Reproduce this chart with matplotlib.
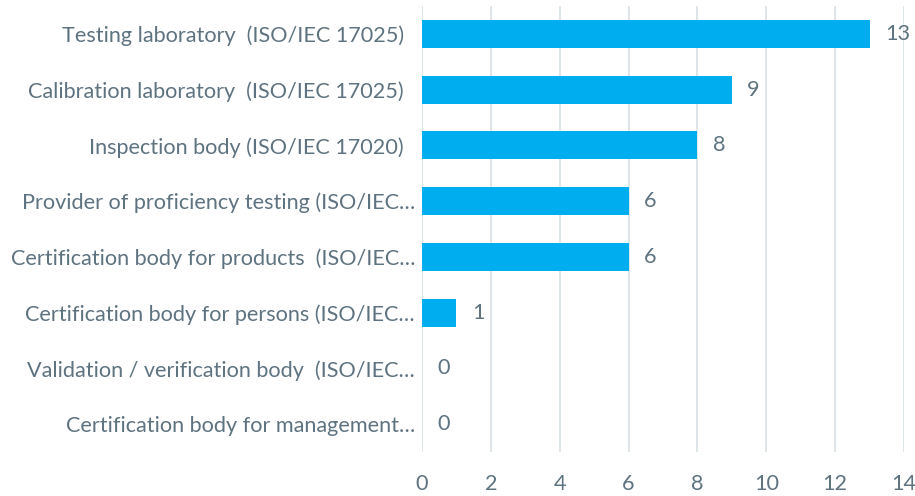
import matplotlib
matplotlib.use("Agg")
import matplotlib.pyplot as plt

categories = [
    "Testing laboratory  (ISO/IEC 17025)  ",
    "Calibration laboratory  (ISO/IEC 17025)  ",
    "Inspection body (ISO/IEC 17020)  ",
    "Provider of proficiency testing (ISO/IEC…",
    "Certification body for products  (ISO/IEC…",
    "Certification body for persons (ISO/IEC…",
    "Validation / verification body  (ISO/IEC…",
    "Certification body for management…",
]
values = [13, 9, 8, 6, 6, 1, 0, 0]
xticks = [0, 2, 4, 6, 8, 10, 12, 14]

BAR = "#00AEEF"
TXT = "#5E7380"
GRID = "#D9E1E6"

plt.rcParams["font.family"] = ["Lato", "DejaVu Sans"]
FS = 15.6

fig = plt.figure(figsize=(9.15, 4.96), dpi=100)
W, H = 915, 496
ax = fig.add_axes([422 / W, 1 - 452 / H, (904 - 422) / W, (452 - 6) / H])

y = list(range(len(categories)))
ax.barh(y, values, height=0.5, color=BAR, zorder=3)
ax.set_ylim(len(categories) - 0.5, -0.5)
ax.set_xlim(0, 14)
ax.set_xticks(xticks)
ax.set_xticklabels([str(t) for t in xticks])
ax.set_yticks(y)
ax.set_yticklabels(categories)
ax.grid(axis="x", color=GRID, linewidth=1.2, zorder=0)
for s in ax.spines.values():
    s.set_visible(False)
ax.tick_params(axis="both", length=0, labelcolor=TXT, labelsize=FS)
ax.tick_params(axis="y", pad=5)
ax.tick_params(axis="x", pad=16)

for yi, v in zip(y, values):
    ax.annotate(str(v), (v, yi), xytext=(11, 0), textcoords="offset points",
                va="center", ha="left", color=TXT, fontsize=FS)

fig.savefig("out.png", dpi=100)
